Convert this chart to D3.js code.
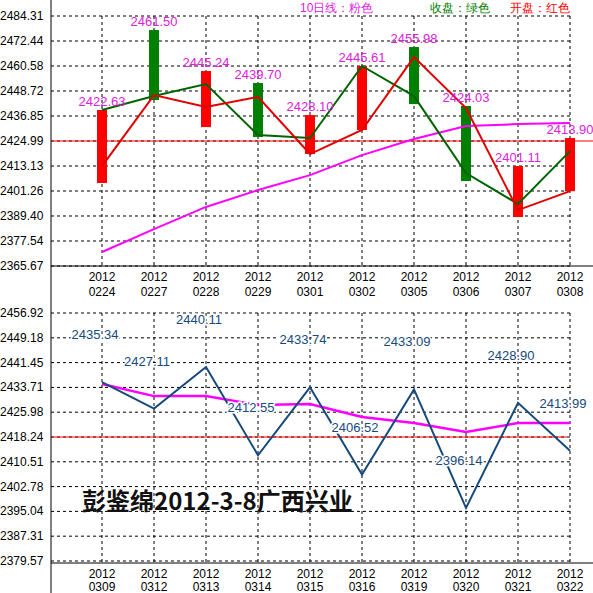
<!DOCTYPE html>
<html><head><meta charset="utf-8">
<script src="https://cdn.jsdelivr.net/npm/d3@7"></script>
<style>
body{margin:0;background:#fff}
text{font-family:Arial,"Liberation Sans",sans-serif;font-size:12px}
.grid{stroke:#000;stroke-dasharray:3,3;stroke-width:1}
</style></head><body>
<div id="chart"></div>
<script>
// top panel data
var top_dates = ["0224","0227","0228","0229","0301","0302","0305","0306","0307","0308"];
var top_ticks = [2484.31,2472.44,2460.58,2448.72,2436.85,2424.99,2413.13,2401.26,2389.40,2377.54,2365.67];
var bar_hi = [2439.7,2477.7,2458.2,2452.5,2437.3,2460.6,2469.6,2441.6,2413.1,2426.4];
var bar_lo = [2405.05,2444.4,2431.6,2426.9,2418.8,2430.2,2442.5,2406.0,2388.9,2401.2];
var bar_up = [false,true,false,true,false,false,true,true,false,false];
var close_vals = [2439.7,2446.3,2452.0,2427.8,2426.4,2460.6,2446.3,2409.8,2395.1,2420.2];
var open_vals = [2413.1,2446.8,2441.1,2445.9,2418.8,2430.2,2464.8,2440.6,2392.2,2401.2];
var ma_top = [2372.3,2383.2,2393.7,2401.7,2408.8,2418.3,2425.9,2432.1,2433.0,2433.5];
var top_labels = ["2422.63","2461.50","2445.24","2439.70","2428.10","2445.61","2455.98","2424.03","2401.11","2413.90"];
var top_ref = 2424.99;

// bottom panel data
var bot_dates = ["0309","0312","0313","0314","0315","0316","0319","0320","0321","0322"];
var bot_ticks = [2456.92,2449.18,2441.45,2433.71,2425.98,2418.24,2410.51,2402.78,2395.04,2387.31,2379.57];
var bot_vals = [2435.34,2427.11,2440.11,2412.55,2433.74,2406.52,2433.09,2396.14,2428.90,2413.99];
var ma_bot = [2434.8,2431.0,2431.0,2428.2,2428.5,2424.5,2422.6,2419.8,2422.6,2422.6];
var bot_ref = 2418.24;

var svg = d3.select("#chart").append("svg").attr("width",593).attr("height",593);

// ---------- top panel ----------
var tx = d3.scalePoint().domain(top_dates).range([102,570]);
var ty = d3.scaleLinear().domain([2365.67,2484.31]).range([266,16]);

svg.selectAll(".thg").data(top_ticks).enter().append("line").attr("class","grid")
  .attr("x1",51).attr("x2",570).attr("y1",d=>ty(d)).attr("y2",d=>ty(d));
svg.selectAll(".tvg").data(top_dates).enter().append("line").attr("class","grid")
  .attr("x1",d=>tx(d)).attr("x2",d=>tx(d)).attr("y1",16).attr("y2",266);
svg.selectAll(".tyl").data(top_ticks).enter().append("text")
  .attr("x",0).attr("y",d=>ty(d)+4).text(d=>d.toFixed(2));
svg.selectAll(".txl1").data(top_dates).enter().append("text").attr("text-anchor","middle")
  .attr("x",d=>tx(d)).attr("y",281).text("2012");
svg.selectAll(".txl2").data(top_dates).enter().append("text").attr("text-anchor","middle")
  .attr("x",d=>tx(d)).attr("y",296).text(d=>d);

svg.append("line").attr("x1",51).attr("x2",593).attr("y1",ty(top_ref)).attr("y2",ty(top_ref))
  .attr("stroke","#ff0000");

svg.selectAll(".bar").data(top_dates).enter().append("rect")
  .attr("x",d=>tx(d)-5).attr("width",10)
  .attr("y",(d,i)=>ty(bar_hi[i])).attr("height",(d,i)=>ty(bar_lo[i])-ty(bar_hi[i]))
  .attr("fill",(d,i)=>bar_up[i]?"#008000":"#ff0000");

var line_top = (vals)=>d3.line().x((d,i)=>tx(top_dates[i])).y(d=>ty(d))(vals);
svg.append("path").attr("d",line_top(ma_top)).attr("fill","none").attr("stroke","#ff00ff").attr("stroke-width",2);
svg.append("path").attr("d",line_top(close_vals)).attr("fill","none").attr("stroke","#006400").attr("stroke-width",2);
svg.append("path").attr("d",line_top(open_vals)).attr("fill","none").attr("stroke","#e00000").attr("stroke-width",2);

svg.selectAll(".tlab").data(top_labels).enter().append("text").attr("text-anchor","middle")
  .style("font-size","13px")
  .attr("fill","#e020e0").attr("x",(d,i)=>tx(top_dates[i])).attr("y",(d,i)=>ty(bar_hi[i])-4).text(d=>d);

svg.append("text").attr("x",300).attr("y",12).attr("fill","#e020e0").text("10日线：粉色");
svg.append("text").attr("x",430).attr("y",12).attr("fill","#008000").text("收盘：绿色");
svg.append("text").attr("x",510).attr("y",12).attr("fill","#ff0000").text("开盘：红色");

svg.append("line").attr("x1",51).attr("x2",593).attr("y1",266).attr("y2",266).attr("stroke","#000");

// ---------- bottom panel ----------
var bx = d3.scalePoint().domain(bot_dates).range([102,570]);
var by = d3.scaleLinear().domain([2379.57,2456.92]).range([561,313]);

svg.selectAll(".bhg").data(bot_ticks).enter().append("line").attr("class","grid")
  .attr("x1",51).attr("x2",570).attr("y1",d=>by(d)).attr("y2",d=>by(d));
svg.selectAll(".bvg").data(bot_dates).enter().append("line").attr("class","grid")
  .attr("x1",d=>bx(d)).attr("x2",d=>bx(d)).attr("y1",313).attr("y2",563);
svg.selectAll(".byl").data(bot_ticks).enter().append("text")
  .attr("x",0).attr("y",d=>by(d)+4).text(d=>d.toFixed(2));
svg.selectAll(".bxl1").data(bot_dates).enter().append("text").attr("text-anchor","middle")
  .attr("x",d=>bx(d)).attr("y",578).text("2012");
svg.selectAll(".bxl2").data(bot_dates).enter().append("text").attr("text-anchor","middle")
  .attr("x",d=>bx(d)).attr("y",591).text(d=>d);

svg.append("line").attr("x1",51).attr("x2",567).attr("y1",by(bot_ref)).attr("y2",by(bot_ref))
  .attr("stroke","#ff0000");

var line_bot = (vals)=>d3.line().x((d,i)=>bx(bot_dates[i])).y(d=>by(d))(vals);
svg.append("path").attr("d",line_bot(ma_bot)).attr("fill","none").attr("stroke","#ff00ff").attr("stroke-width",2.5);
svg.append("path").attr("d",line_bot(bot_vals)).attr("fill","none").attr("stroke","#174a7c").attr("stroke-width",2);

svg.selectAll(".blab").data(bot_vals).enter().append("text").attr("text-anchor","middle")
  .style("font-size","13px")
  .attr("fill","#174a7c").attr("stroke","#fff").attr("stroke-width",3).attr("paint-order","stroke")
  .attr("x",(d,i)=>bx(bot_dates[i])-7).attr("y",(d,i)=>by(d)-43).text(d=>d.toFixed(2));

svg.append("text").attr("x",82).attr("y",510).style("font-family","'Noto Sans CJK SC'")
  .style("font-size","24px").style("font-weight","bold").attr("fill","#111").text("彭鉴绵2012-3-8广西兴业");

svg.append("line").attr("x1",51).attr("x2",593).attr("y1",563).attr("y2",563).attr("stroke","#000");
svg.append("line").attr("x1",51).attr("x2",51).attr("y1",0).attr("y2",593).attr("stroke","#000");
</script>
</body></html>
